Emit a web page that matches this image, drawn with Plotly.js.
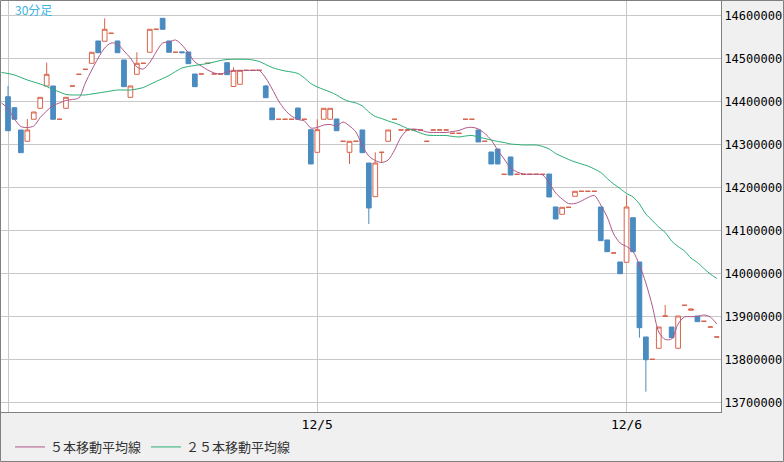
<!DOCTYPE html>
<html><head><meta charset="utf-8">
<script src="https://cdn.plot.ly/plotly-3.0.1.min.js"></script>
<style>html,body{margin:0;padding:0;background:#f0f0f0;}#chart{width:784px;height:462px;}</style>
</head><body><div id="chart"></div>
<script>
// 30-minute bars, first bar = 12/4 00:00
const openPrices = [14410700,14385100,14333300,14307000,14358200,14383700,14435600,14435600,14358200,14383700,
14435600,14462800,14474400,14488400,14540300,14539600,14558200,14540300,14496100,14409300,
14462800,14488400,14514000,14567500,14593000,14540300,14514000,14515000,14514700,14463500,
14463500,14488400,14463500,14463500,14489800,14434400,14439600,14472100,14472100,14472100,
14435600,14384400,14358200,14358200,14358200,14384400,14358200,14334000,14281400,14358200,
14358200,14358900,14307000,14281400,14307000,14333300,14256500,14178200,14281400,14307000,
14358200,14333300,14333300,14333300,14333300,14307000,14333300,14333300,14333300,14325600,
14325600,14358200,14358200,14333300,14307000,14282100,14289100,14230200,14270500,14230200,
14230200,14230200,14230200,14230200,14230900,14154200,14137200,14153500,14179100,14190700,
14190700,14190700,14154200,14077500,14047200,14026300,14025600,14129300,14026300,13851900,
13800000,13825600,13900700,13875100,13825600,13925600,13914000,13900700,13888400,13875100,
13851900];
const highPrices = [14435600,14385100,14333300,14358900,14375100,14409300,14489800,14435600,14358200,14409300,
14435600,14462800,14474400,14514000,14540300,14593000,14558200,14540300,14496100,14435600,
14514000,14488400,14567500,14567500,14593000,14540300,14514000,14515000,14514700,14463500,
14463500,14488400,14463500,14463500,14489800,14479100,14472100,14472100,14472100,14472100,
14437900,14384400,14358200,14358200,14358200,14384400,14358200,14334000,14358200,14383700,
14383700,14358900,14307000,14307000,14307000,14333300,14256500,14281400,14281400,14333300,
14358200,14333300,14333300,14333300,14333300,14307000,14333300,14333300,14333300,14325600,
14325600,14358200,14358200,14333300,14307000,14282100,14289100,14230200,14270500,14230200,
14230200,14230200,14230200,14230200,14230900,14154200,14153500,14153500,14190700,14190700,
14190700,14190700,14154200,14077500,14047200,14026300,14180500,14129300,14026300,13851900,
13800000,13875100,13926300,13875100,13900700,13925600,13917000,13900700,13888400,13875100,
13851900];
const lowPrices = [14331600,14358200,14280500,14307000,14358200,14383700,14435600,14358200,14358200,14383700,
14435600,14462800,14474400,14488400,14513000,14539600,14558200,14513000,14434000,14409300,
14462800,14488400,14514000,14567500,14567500,14514000,14514000,14513000,14487500,14434000,
14463500,14488400,14463500,14463500,14461900,14434400,14439600,14472100,14472100,14472100,
14408400,14357200,14358200,14358200,14358200,14358200,14358200,14254200,14281400,14358200,
14358200,14331600,14307000,14254200,14307000,14280500,14114700,14178200,14256500,14307000,
14358200,14333300,14333300,14333300,14333300,14307000,14333300,14333300,14333300,14325600,
14325600,14358200,14358200,14305400,14307000,14254200,14254200,14230200,14228600,14230200,
14230200,14230200,14230200,14230200,14177500,14126300,14137200,14153500,14179100,14190700,
14190700,14190700,14075800,14050200,14047200,13999100,14025600,14050200,13850200,13724700,
13800000,13825600,13900700,13850200,13825600,13925600,13914000,13887500,13888400,13875100,
13851900];
const closePrices = [14331600,14358200,14280500,14333300,14375100,14409300,14462800,14358200,14358200,14409300,
14435600,14462800,14474400,14514000,14513000,14567500,14558200,14513000,14434000,14435600,
14488400,14488400,14567500,14567500,14567500,14514000,14514000,14513000,14487500,14434000,
14463500,14488400,14463500,14463500,14461900,14472100,14472100,14472100,14472100,14472100,
14408400,14357200,14358200,14358200,14358200,14358200,14358200,14254200,14334000,14383700,
14383700,14331600,14307000,14307000,14307000,14280500,14151900,14256500,14281400,14333300,
14358200,14333300,14333300,14333300,14333300,14307000,14333300,14333300,14333300,14325600,
14325600,14358200,14358200,14305400,14307000,14254200,14254200,14230200,14228600,14230200,
14230200,14230200,14230200,14230200,14177500,14126300,14153500,14153500,14190700,14190700,
14190700,14190700,14075800,14050200,14047200,13999100,14154200,14050200,13873500,13799100,
13800000,13875100,13900700,13850200,13900700,13925600,13917000,13887500,13888400,13875100,
13851900];
// moving averages, first value belongs to the bar just before the first candle
const ma5 = [14396100,
14383300,14358900,14341400,14339100,14342600,14362300,14377500,14390200,14396100,14401900,
14404200,14407700,14442600,14472800,14500700,14524000,14535600,14533300,14517000,14500700,
14479800,14475100,14490200,14514700,14535600,14537900,14542600,14530900,14512300,14491400,
14482100,14472800,14465800,14463500,14468200,14470500,14471600,14471600,14471600,14471600,
14454200,14428600,14400700,14379800,14365800,14357700,14354200,14337900,14339100,14344900,
14346100,14342600,14351900,14342600,14328600,14296100,14272800,14262300,14257700,14263500,
14286800,14317000,14333300,14335600,14333300,14328600,14327500,14327500,14327500,14329800,
14332100,14337900,14339600,14335600,14325100,14310000,14286800,14265800,14244900,14235600,
14230900,14230200,14230200,14228600,14210000,14186800,14172800,14162300,14162300,14168200,
14176300,14180900,14158900,14130900,14091400,14070500,14062300,14050700,14019300,13977500,
13924000,13863500,13846100,13847200,13882100,13898400,13899100,13899600,13903000,13898400,
13882100];
const ma25 = [14467000,
14464700,14461200,14455400,14449600,14444900,14440200,14434400,14427500,14421600,14415800,
14414700,14414700,14414700,14417000,14419300,14421600,14424000,14426300,14426300,14426300,
14428600,14432100,14439100,14446100,14453000,14460000,14469300,14477500,14480900,14483300,
14485600,14487900,14491400,14494900,14497200,14497700,14497700,14497700,14496100,14492600,
14485600,14478600,14474000,14470500,14468200,14464700,14454200,14441400,14433300,14427500,
14421600,14414700,14405400,14399600,14396100,14389100,14375100,14364700,14360000,14354200,
14349600,14343700,14336800,14332100,14326300,14321600,14320500,14320500,14320500,14318200,
14317000,14319300,14320500,14317000,14313500,14310000,14306500,14304200,14300700,14299600,
14298400,14298400,14298400,14294900,14289100,14278600,14271600,14264700,14258900,14254200,
14249600,14242600,14234400,14220500,14207700,14197200,14185600,14177500,14161200,14137900,
14122800,14107700,14094900,14075100,14062300,14051900,14035600,14025100,14011200,13998400,
13987900];
const dayTickPos = [0, 48, 96];
const dayTickText = ['', '12/5', '12/6'];
const priceTicks = [13700000,13800000,13900000,14000000,14100000,14200000,14300000,14400000,14500000,14600000];
const seriesNames = ['５本移動平均線', '２５本移動平均線'];
const periodLabel = '30分足';

const UP = '#d9634a', DOWN = '#4a8bc0';
const barX = closePrices.map((_, i) => i);
const maX = ma5.map((_, i) => i - 1);
const upIdx = barX.filter(i => closePrices[i] >= openPrices[i]);
const downIdx = barX.filter(i => closePrices[i] < openPrices[i]);
function candle(idx, color, fill) {
  const st = {line: {color: color, width: 1}, fillcolor: fill};
  return {type: 'candlestick', x: idx,
    open: idx.map(i => openPrices[i]), high: idx.map(i => highPrices[i]),
    low: idx.map(i => lowPrices[i]), close: idx.map(i => closePrices[i]),
    increasing: st, decreasing: st, whiskerwidth: 0, showlegend: false, hoverinfo: 'skip'};
}
const data = [
  candle(upIdx, UP, '#ffffff'),
  candle(downIdx, DOWN, DOWN),
  {type: 'scatter', mode: 'lines', x: maX, y: ma5, name: seriesNames[0],
   line: {color: '#b0588a', width: 1, shape: 'spline', smoothing: 0.8}, hoverinfo: 'skip'},
  {type: 'scatter', mode: 'lines', x: maX, y: ma25, name: seriesNames[1],
   line: {color: '#2aae74', width: 1, shape: 'spline', smoothing: 0.8}, hoverinfo: 'skip'}
];
const W = 784, H = 462, PR = 721, PB = 412;
const layout = {
  width: W, height: H,
  margin: {l: 0, r: W - PR, t: 0, b: H - PB, pad: 0},
  paper_bgcolor: '#f0f0f0', plot_bgcolor: '#ffffff',
  boxgap: 0.27, boxgroupgap: 0,
  showlegend: true,
  xaxis: {range: [-1.2416, 110.66], tickmode: 'array', tickvals: dayTickPos, ticktext: dayTickText,
    showgrid: true, gridcolor: '#c8c8c8', gridwidth: 1, zeroline: false,
    showline: true, mirror: true, linecolor: '#808080', linewidth: 1, ticks: '',
    tickfont: {family: 'DejaVu Sans Mono', size: 13, color: '#000'},
    rangeslider: {visible: false}, fixedrange: true},
  yaxis: {side: 'right', range: [13677435, 14635582], tickmode: 'array', tickvals: priceTicks,
    ticktext: priceTicks.map(String),
    showgrid: true, gridcolor: '#c8c8c8', gridwidth: 1, zeroline: false,
    showline: true, mirror: true, linecolor: '#808080', linewidth: 1, ticks: '',
    tickfont: {family: 'DejaVu Sans Mono', size: 12, color: '#000'}, fixedrange: true},
  legend: {orientation: 'h', x: 10 / PR, xanchor: 'left', y: (PB - 447) / PB, yanchor: 'middle',
    font: {family: 'Noto Sans CJK JP', size: 13, color: '#333'},
    bgcolor: 'rgba(0,0,0,0)', borderwidth: 0},
  annotations: [{text: periodLabel, xref: 'paper', yref: 'paper', x: 13 / PR, y: (PB - 10) / PB,
    xanchor: 'left', yanchor: 'middle', showarrow: false,
    font: {family: 'Noto Sans CJK JP', size: 12, color: '#3ab4e6'}}],
  shapes: [{type: 'rect', xref: 'paper', yref: 'paper', x0: 0.5 / PR, x1: (W - 0.5) / PR,
    y0: (PB - (H - 0.5)) / PB, y1: (PB - 0.5) / PB, line: {color: '#808080', width: 1},
    fillcolor: 'rgba(0,0,0,0)'}]
};
Plotly.newPlot('chart', data, layout, {displayModeBar: false, staticPlot: true});
</script></body></html>
